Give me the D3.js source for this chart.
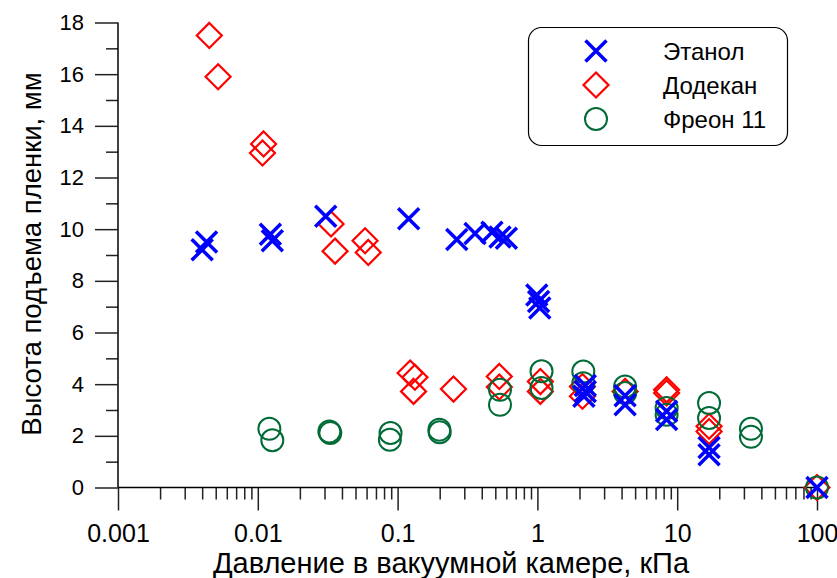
<!DOCTYPE html>
<html>
<head>
<meta charset="utf-8">
<script src="https://cdn.jsdelivr.net/npm/d3@7"></script>
<style>
  body { margin: 0; background: #fff; }
  text { font-family: Arial, "Liberation Sans", sans-serif; }
</style>
</head>
<body>
<div id="chart"></div>
<script>
// pressure (kPa) and film rise height (mm)
var ethanolP = [0.0040, 0.0043, 0.0123, 0.0127, 0.0306, 0.12, 0.265, 0.358, 0.473, 0.54, 0.60, 0.99, 1.02, 1.04, 2.2, 2.2, 2.15, 4.24, 4.24, 8.4, 8.4, 16.9, 16.9, 100];
var ethanolH = [9.2, 9.5, 9.8, 9.55, 10.5, 10.4, 9.6, 9.83, 9.88, 9.7, 9.65, 7.45, 7.2, 6.95, 3.95, 3.72, 3.53, 3.55, 3.2, 2.95, 2.63, 1.55, 1.27, 0];

var dodecaneP = [0.0045, 0.0052, 0.011, 0.0108, 0.0334, 0.0357, 0.0585, 0.0617, 0.123, 0.133, 0.130, 0.251, 0.534, 0.534, 1.05, 1.05, 2.1, 2.1, 4.24, 8.4, 8.4, 16.9, 16.9, 100];
var dodecaneH = [17.5, 15.9, 13.3, 12.95, 10.2, 9.15, 9.55, 9.1, 4.43, 4.27, 3.72, 3.81, 4.3, 3.89, 4.1, 3.72, 3.91, 3.53, 3.72, 3.78, 3.66, 2.37, 2.17, 0];

var freonP = [0.0121, 0.0127, 0.0325, 0.033, 0.089, 0.088, 0.199, 0.2, 0.54, 0.54, 1.07, 1.07, 2.13, 2.13, 4.24, 4.24, 8.4, 8.4, 16.9, 16.9, 33.7, 33.7, 100];
var freonH = [2.27, 1.83, 2.17, 2.11, 2.11, 1.85, 2.24, 2.14, 3.78, 3.2, 4.5, 3.85, 4.49, 4.04, 3.91, 3.66, 3.08, 2.82, 3.27, 2.69, 2.27, 1.96, 0];

var xMajor = [0.001, 0.01, 0.1, 1, 10, 100];
var xLabels = ["0.001", "0.01", "0.1", "1", "10", "100"];
var yMajor = [0, 2, 4, 6, 8, 10, 12, 14, 16, 18];
var yMinor = [1, 3, 5, 7, 9, 11, 13, 15, 17];

var seriesNames = ["Этанол", "Додекан", "Фреон 11"];
var xTitle = "Давление в вакуумной камере, кПа";
var yTitle = "Высота подъема пленки, мм";

var blue = "#0000ff", red = "#ff0000", green = "#006b36";

var svg = d3.select("#chart").append("svg")
    .attr("width", 837)
    .attr("height", 578);

var x = d3.scaleLog().domain([0.001, 100]).range([118, 817]);
var y = d3.scaleLinear().domain([0, 18]).range([487.5, 22.5]);

// minor ticks of the log axis: 2..9 in each decade
var xMinor = [];
for (var d = 0; d < xMajor.length - 1; d++) {
    for (var k = 2; k <= 9; k++) xMinor.push(xMajor[d] * k);
}

var xAxisMinor = svg.append("g")
    .attr("transform", "translate(0," + y(0) + ")")
    .call(d3.axisBottom(x).tickValues(xMinor).tickSize(12).tickFormat(""));

var xAxis = svg.append("g")
    .attr("transform", "translate(0," + y(0) + ")")
    .call(d3.axisBottom(x).tickValues(xMajor).tickSize(23).tickPadding(14)
        .tickFormat(function(d, i) { return xLabels[i]; }));

var yAxisMinor = svg.append("g")
    .attr("transform", "translate(" + x(0.001) + ",0)")
    .call(d3.axisLeft(y).tickValues(yMinor).tickSize(12).tickFormat(""));

var yAxis = svg.append("g")
    .attr("transform", "translate(" + x(0.001) + ",0)")
    .call(d3.axisLeft(y).tickValues(yMajor).tickSize(23).tickPadding(11));

svg.selectAll(".domain").attr("stroke", "#000").attr("stroke-width", 1.5);
svg.selectAll(".tick line").attr("stroke", "#222").attr("stroke-width", 1.5);
svg.selectAll(".tick text")
    .attr("fill", "#000")
    .style("font-family", "Arial, 'Liberation Sans', sans-serif");
xAxis.selectAll(".tick text").style("font-size", "25px");
yAxis.selectAll(".tick text").style("font-size", "22px");
// clean domain lines (no outer stubs)
xAxis.select(".domain").attr("d", "M" + x(0.001) + ",0H" + x(100));
xAxisMinor.select(".domain").remove();
yAxis.select(".domain").attr("d", "M0," + y(0) + "V" + y(18));
yAxisMinor.select(".domain").remove();

// axis titles
svg.append("text")
    .attr("x", 451)
    .attr("y", 573)
    .attr("text-anchor", "middle")
    .style("font-size", "29px")
    .text(xTitle);

svg.append("text")
    .attr("transform", "translate(41,254) rotate(-90)")
    .attr("text-anchor", "middle")
    .style("font-size", "27.5px")
    .text(yTitle);

// markers
function zip(ps, hs) {
    return ps.map(function(p, i) { return { p: p, h: hs[i] }; });
}

var diamond = "M0,-12.5L12.5,0L0,12.5L-12.5,0Z";
var cross = "M-10.5,-10.5L10.5,10.5M-10.5,10.5L10.5,-10.5";

svg.append("g").selectAll("path")
    .data(zip(dodecaneP, dodecaneH))
    .enter().append("path")
    .attr("d", diamond)
    .attr("transform", function(d) { return "translate(" + x(d.p) + "," + y(d.h) + ")"; })
    .attr("fill", "none")
    .attr("stroke", red)
    .attr("stroke-width", 2.2);

svg.append("g").selectAll("circle")
    .data(zip(freonP, freonH))
    .enter().append("circle")
    .attr("cx", function(d) { return x(d.p); })
    .attr("cy", function(d) { return y(d.h); })
    .attr("r", 11)
    .attr("fill", "none")
    .attr("stroke", green)
    .attr("stroke-width", 2);

svg.append("g").selectAll("path")
    .data(zip(ethanolP, ethanolH))
    .enter().append("path")
    .attr("d", cross)
    .attr("transform", function(d) { return "translate(" + x(d.p) + "," + y(d.h) + ")"; })
    .attr("fill", "none")
    .attr("stroke", blue)
    .attr("stroke-width", 3.5);

// legend
var legend = svg.append("g");
legend.append("rect")
    .attr("x", 528.5).attr("y", 27.5)
    .attr("width", 259).attr("height", 118)
    .attr("rx", 13).attr("ry", 13)
    .attr("fill", "#fff")
    .attr("stroke", "#000")
    .attr("stroke-width", 1.2);

var rows = [51, 85, 119];
legend.append("path")
    .attr("d", cross)
    .attr("transform", "translate(596," + rows[0] + ")")
    .attr("fill", "none").attr("stroke", blue).attr("stroke-width", 3.5);
legend.append("path")
    .attr("d", diamond)
    .attr("transform", "translate(596," + rows[1] + ")")
    .attr("fill", "none").attr("stroke", red).attr("stroke-width", 2.2);
legend.append("circle")
    .attr("cx", 596).attr("cy", rows[2]).attr("r", 11)
    .attr("fill", "none").attr("stroke", green).attr("stroke-width", 2);

legend.selectAll(".lab")
    .data(seriesNames)
    .enter().append("text")
    .attr("class", "lab")
    .attr("x", 663)
    .attr("y", function(d, i) { return rows[i] + 9; })
    .style("font-size", "24px")
    .text(function(d) { return d; });
</script>
</body>
</html>
